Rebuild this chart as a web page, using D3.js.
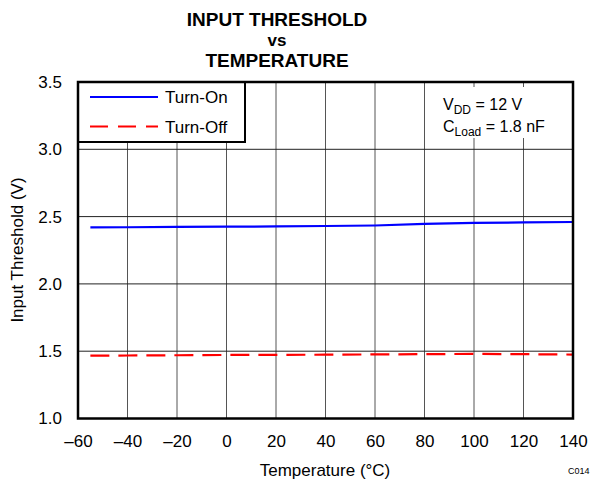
<!DOCTYPE html>
<html>
<head>
<meta charset="utf-8">
<script src="https://cdn.jsdelivr.net/npm/d3@7"></script>
<style>
  body { margin: 0; background: #fff; }
  text { font-family: 'Liberation Sans', Arial, sans-serif; }
</style>
</head>
<body>
<div id="chart"></div>
<script>
// data
const temps = [-55, -40, -20, 0, 20, 40, 60, 80, 100, 120, 140];
const turnOn = [2.42, 2.421, 2.423, 2.425, 2.427, 2.43, 2.434, 2.446, 2.453, 2.457, 2.46];
const turnOff = [1.467, 1.468, 1.47, 1.472, 1.473, 1.474, 1.476, 1.478, 1.48, 1.478, 1.475];
const xTicks = [-60, -40, -20, 0, 20, 40, 60, 80, 100, 120, 140];
const yTicks = [1.0, 1.5, 2.0, 2.5, 3.0, 3.5];
const seriesNames = ['Turn-On', 'Turn-Off'];

const w = 590;
const h = 484;
const svg = d3.select('#chart').append('svg')
  .attr('width', w)
  .attr('height', h);

const [x0, y0, x1, y1] = [78, 82, 573, 418.5];
const xScale = d3.scaleLinear().domain([-60, 140]).range([x0, x1]);
const yScale = d3.scaleLinear().domain([1, 3.5]).range([y1, y0]);

// grid
const grid = svg.append('g');
grid.selectAll('.gx').data(xTicks).enter().append('line')
  .attr('x1', d => xScale(d)).attr('x2', d => xScale(d))
  .attr('y1', y0).attr('y2', y1)
  .attr('stroke', '#555').attr('stroke-width', 1);
grid.selectAll('.gy').data(yTicks).enter().append('line')
  .attr('x1', x0).attr('x2', x1)
  .attr('y1', d => yScale(d)).attr('y2', d => yScale(d))
  .attr('stroke', '#222').attr('stroke-width', 1);

// axes (labels only, frame drawn separately)
const fmtX = d => d < 0 ? '\u2013' + Math.abs(d) : String(d);
const xAxis = d3.axisBottom(xScale).tickValues(xTicks).tickFormat(fmtX).tickSize(0).tickPadding(16);
const gx = svg.append('g').attr('transform', `translate(0, ${y1})`).call(xAxis);
gx.select('.domain').remove();
gx.selectAll('text').attr('font-size', 17).attr('fill', '#000')
  .attr('font-family', "'Liberation Sans', Arial, sans-serif");

const yAxis = d3.axisLeft(yScale).tickValues(yTicks).tickFormat(d3.format('.1f')).tickSize(0).tickPadding(16);
const gy = svg.append('g').attr('transform', `translate(${x0}, 0)`).call(yAxis);
gy.select('.domain').remove();
gy.selectAll('text').attr('font-size', 17).attr('fill', '#000')
  .attr('font-family', "'Liberation Sans', Arial, sans-serif");

// lines
const line = vals => d3.line()
  .x((d, i) => xScale(temps[i]))
  .y(d => yScale(d))(vals);

svg.append('path').attr('d', line(turnOn))
  .attr('fill', 'none').attr('stroke', '#0000ff').attr('stroke-width', 2.2);
svg.append('path').attr('d', line(turnOff))
  .attr('fill', 'none').attr('stroke', '#ff0000').attr('stroke-width', 2.2)
  .attr('stroke-dasharray', '19,9');

// annotation box
svg.append('rect').attr('x', 437).attr('y', 87).attr('width', 128).attr('height', 51).attr('fill', '#fff');
const ann = svg.append('text').attr('x', 443).attr('y', 110).attr('font-size', 16);
ann.append('tspan').text('V');
ann.append('tspan').attr('font-size', 12).attr('dy', 4).text('DD');
ann.append('tspan').attr('dy', -4).text(' = 12 V');
const ann2 = svg.append('text').attr('x', 443).attr('y', 132).attr('font-size', 16);
ann2.append('tspan').text('C');
ann2.append('tspan').attr('font-size', 12).attr('dy', 4).text('Load');
ann2.append('tspan').attr('dy', -4).text(' = 1.8 nF');

// legend
svg.append('rect').attr('x', 78).attr('y', 82).attr('width', 167).attr('height', 60)
  .attr('fill', '#fff').attr('stroke', '#000').attr('stroke-width', 2);
const leg = svg.append('g');
leg.selectAll('line').data(seriesNames).enter().append('line')
  .attr('x1', 90).attr('x2', 158)
  .attr('y1', (d, i) => 97 + i * 29.5).attr('y2', (d, i) => 97 + i * 29.5)
  .attr('stroke', (d, i) => i === 0 ? '#0000ff' : '#ff0000')
  .attr('stroke-width', 2.2)
  .attr('stroke-dasharray', (d, i) => i === 0 ? null : '18,10');
leg.selectAll('text').data(seriesNames).enter().append('text')
  .attr('x', 165).attr('y', (d, i) => 103 + i * 29.5)
  .attr('font-size', 17).text(d => d);

// frame
svg.append('rect').attr('x', x0).attr('y', y0).attr('width', x1 - x0).attr('height', y1 - y0)
  .attr('fill', 'none').attr('stroke', '#000').attr('stroke-width', 2.5);

// titles
const title = ['INPUT THRESHOLD', 'vs', 'TEMPERATURE'];
svg.selectAll('.title').data(title).enter().append('text')
  .attr('x', 277).attr('y', (d, i) => [26, 46, 67][i])
  .attr('text-anchor', 'middle').attr('font-weight', 'bold')
  .attr('font-size', (d, i) => i === 1 ? 17 : 19)
  .text(d => d);

svg.append('text').attr('x', 325).attr('y', 476).attr('text-anchor', 'middle')
  .attr('font-size', 17).text('Temperature (\u00b0C)');
svg.append('text').attr('transform', 'translate(23, 250) rotate(-90)')
  .attr('text-anchor', 'middle').attr('font-size', 17).text('Input Threshold (V)');
svg.append('text').attr('x', 568).attr('y', 474).attr('font-size', 9).text('C014');
</script>
</body>
</html>
